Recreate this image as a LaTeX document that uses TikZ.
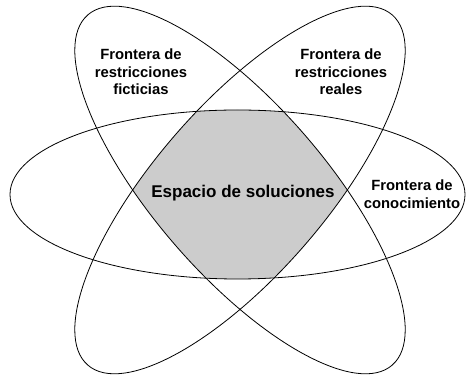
\documentclass[tikz,border=0pt]{standalone}
\usepackage{fontspec}
\setmainfont{Liberation Sans}
\begin{document}
\begin{tikzpicture}[x=1pt, y=1pt,
    orbit/.style={line width=0.8pt},
    frontera/.style={align=center, font=\bfseries\fontsize{14.8}{17.5}\selectfont, text=black}]
  \useasboundingbox (0,0) rectangle (466,377);
  \coordinate (h) at (237.5,182.5);
  \coordinate (c) at (240,187);
  \begin{scope}
    \clip (h) ellipse [x radius=227.5pt, y radius=84.5pt];
    \clip[rotate around={-49:(c)}] (c) ellipse [x radius=232pt, y radius=85pt];
    \fill[gray!40, rotate around={49:(c)}] (c) ellipse [x radius=232pt, y radius=85pt];
  \end{scope}
  \draw[orbit] (h) ellipse [x radius=227.5pt, y radius=84.5pt];
  \draw[orbit, rotate around={-49:(c)}] (c) ellipse [x radius=232pt, y radius=85pt];
  \draw[orbit, rotate around={49:(c)}] (c) ellipse [x radius=232pt, y radius=85pt];
  \node[frontera] (ficticias) at (141,305) {Frontera de\\restricciones\\ficticias};
  \node[frontera] (reales) at (341,305) {Frontera de\\restricciones\\reales};
  \node[frontera] (conocimiento) at (412,183) {Frontera de\\conocimiento};
  \node[font=\bfseries\fontsize{17}{20}\selectfont, text=black] (espacio) at (243,184) {Espacio de soluciones};
\end{tikzpicture}
\end{document}
